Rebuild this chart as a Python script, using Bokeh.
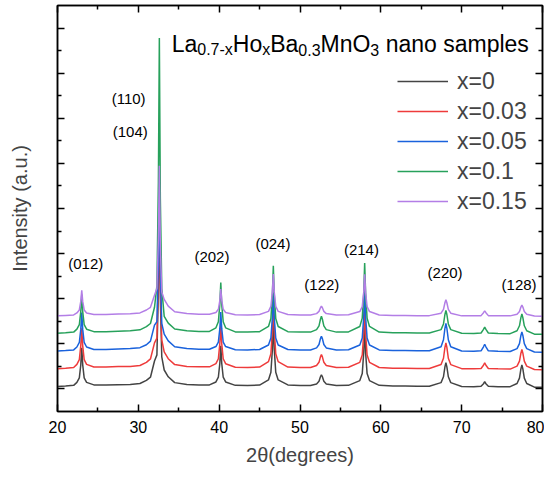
from bokeh.plotting import figure
from bokeh.models import (FixedTicker, LinearAxis, Range1d, Legend, LegendItem,
                          ColumnDataSource, CustomJSTickFormatter)
from bokeh.core.properties import value
from bokeh.embed import file_html
from bokeh.resources import INLINE

FONT = "Liberation Sans"

# ---------------- data ----------------
two_theta = [20.0, 21.0, 22.0, 22.4, 22.7, 22.88, 23.0, 23.12, 23.3, 23.6,
             24.5, 26.0, 27.5, 29.0, 30.2, 31.0, 31.5,
             32.0, 32.3, 32.48, 32.6, 32.72, 32.9, 33.2, 33.7,
             34.5, 36.0, 37.5, 38.8,
             39.6, 39.9, 40.08, 40.2, 40.32, 40.5, 40.8,
             42.0, 43.5, 45.0,
             46.1, 46.4, 46.58, 46.7, 46.82, 47.0, 47.3,
             48.5, 50.0, 51.3,
             52.05, 52.35, 52.53, 52.65, 52.77, 52.95, 53.25,
             54.5, 56.0,
             57.4, 57.7, 57.88, 58.0, 58.12, 58.3, 58.6,
             59.8, 61.5, 63.0, 64.5, 66.0,
             67.45, 67.75, 67.93, 68.05, 68.17, 68.35, 68.65,
             70.0, 71.5,
             72.4, 72.7, 72.85, 73.0, 73.3,
             74.5, 76.0,
             76.85, 77.15, 77.33, 77.45, 77.57, 77.75, 78.05,
             79.0, 80.0]

int_x0 = [111, 113, 116, 129, 149, 207, 282, 207, 149, 129,
          118, 117, 119, 120, 124, 138, 152,
          224, 251, 547, 960, 504, 242, 184, 154,
          128, 120, 118, 118,
          131, 152, 213, 291, 213, 152, 131,
          116, 115, 117,
          140, 174, 273, 400, 273, 174, 140,
          118, 115, 115,
          122, 134, 154, 163, 154, 134, 122,
          115, 116,
          137, 168, 260, 378, 260, 168, 137,
          116, 113, 113, 112, 112,
          128, 154, 198, 217, 198, 154, 128,
          111, 110,
          112, 123, 132, 123, 112,
          110, 110,
          124, 148, 189, 206, 189, 148, 124,
          108, 107]

int_x003 = [190, 192, 195, 209, 230, 291, 369, 291, 230, 209,
            197, 197, 199, 200, 204, 218, 233,
            304, 325, 607, 1000, 566, 317, 264, 234,
            208, 200, 198, 198,
            212, 234, 300, 384, 300, 234, 212,
            196, 195, 197,
            221, 256, 360, 493, 360, 256, 221,
            197, 195, 195,
            204, 218, 242, 252, 242, 218, 204,
            195, 196,
            218, 250, 345, 466, 345, 250, 218,
            195, 192, 192, 191, 191,
            208, 236, 284, 304, 284, 236, 208,
            190, 189,
            191, 205, 216, 205, 191,
            189, 188,
            201, 223, 259, 275, 259, 223, 201,
            186, 185]

int_x005 = [268, 270, 273, 286, 306, 364, 439, 364, 306, 286,
            275, 275, 277, 279, 283, 296, 312,
            383, 398, 667, 1040, 628, 390, 343, 313,
            287, 279, 276, 276,
            288, 308, 366, 441, 366, 308, 288,
            274, 273, 275,
            295, 326, 414, 528, 414, 326, 295,
            275, 273, 273,
            282, 297, 323, 334, 323, 297, 282,
            273, 274,
            295, 326, 418, 536, 418, 326, 295,
            273, 270, 270, 269, 269,
            287, 318, 369, 391, 369, 318, 287,
            268, 267,
            269, 287, 298, 287, 269,
            267, 266,
            279, 301, 337, 353, 337, 301, 279,
            264, 263]

int_x01 = [347, 349, 352, 365, 385, 443, 518, 443, 385, 365,
           354, 354, 356, 358, 362, 376, 390,
           462, 558, 1014, 1656, 949, 545, 422, 392,
           366, 358, 355, 355,
           371, 398, 474, 572, 474, 398, 371,
           353, 352, 354,
           377, 412, 515, 646, 515, 412, 377,
           354, 352, 352,
           363, 380, 409, 422, 409, 380, 363,
           352, 353,
           377, 414, 521, 658, 521, 414, 377,
           352, 349, 349, 348, 348,
           363, 388, 430, 448, 430, 388, 363,
           347, 346,
           348, 364, 374, 364, 348,
           346, 345,
           358, 380, 416, 432, 416, 380, 358,
           343, 342]

int_x015 = [424, 426, 428, 437, 450, 488, 537, 488, 450, 437,
            430, 430, 432, 433, 437, 450, 462,
            515, 545, 768, 1090, 735, 530, 497, 467,
            442, 434, 431, 431,
            439, 453, 492, 543, 492, 453, 439,
            429, 428, 430,
            444, 466, 528, 609, 528, 466, 444,
            430, 428, 428,
            434, 444, 460, 467, 460, 444, 434,
            428, 429,
            443, 465, 527, 608, 527, 465, 443,
            428, 426, 426, 425, 425,
            436, 453, 482, 495, 482, 453, 436,
            424, 424,
            425, 438, 446, 438, 425,
            424, 424,
            431, 443, 463, 472, 463, 443, 431,
            423, 422]

series_labels = ["x=0", "x=0.03", "x=0.05", "x=0.1", "x=0.15"]
series_values = [int_x0, int_x003, int_x005, int_x01, int_x015]
series_colors = ["#444444", "#ee3b3b", "#1a62dc", "#27a15b", "#b37ee6"]

peak_labels = ["(012)", "(110)", "(104)", "(202)", "(024)", "(122)", "(214)", "(220)", "(128)"]
peak_label_x = [23.5, 28.8, 29.0, 39.1, 46.65, 52.7, 57.6, 67.95, 77.1]
peak_label_y = [658, 1386, 1243, 685, 746, 562, 719, 615, 562]

x_major = [20, 30, 40, 50, 60, 70, 80]
x_minor = [25, 35, 45, 55, 65, 75]
y_major = [100, 300, 500, 700, 900, 1100, 1300, 1500, 1700]
y_minor = [200, 400, 600, 800, 1000, 1200, 1400, 1600]

# ---------------- figure ----------------
p = figure(width=544, height=468, x_range=Range1d(20, 80), y_range=Range1d(0, 1800),
           output_backend="svg", toolbar_location=None,
           min_border_left=57, min_border_right=2, min_border_top=5, min_border_bottom=50)
p.xgrid.visible = False
p.ygrid.visible = False
p.outline_line_color = "black"
p.outline_line_width = 1.5
p.background_fill_color = "white"
p.border_fill_color = "white"


def style_axis(ax, ticker, labels=True):
    ax.ticker = ticker
    ax.major_tick_in = 7
    ax.major_tick_out = 0
    ax.minor_tick_in = 4
    ax.minor_tick_out = 0
    ax.axis_line_width = 1.5
    ax.axis_line_color = "black"
    ax.major_tick_line_width = 1.5
    ax.minor_tick_line_width = 1.5
    ax.major_tick_line_color = "black"
    ax.minor_tick_line_color = "black"
    ax.major_label_text_font = FONT
    ax.major_label_text_color = "black"
    if labels:
        ax.major_label_text_font_size = "16px"
    else:
        ax.formatter = CustomJSTickFormatter(code="return ''")
        ax.major_label_standoff = 0
        ax.axis_label_standoff = 0


xt = FixedTicker(ticks=x_major, minor_ticks=x_minor)
yt = FixedTicker(ticks=y_major, minor_ticks=y_minor)

xa = p.xaxis[0]
style_axis(xa, xt, True)
xa.major_label_standoff = 9
xa.axis_label = "2θ(degrees)"
xa.axis_label_text_font = FONT
xa.axis_label_text_font_size = "20px"
xa.axis_label_text_font_style = "normal"
xa.axis_label_standoff = 8

ya = p.yaxis[0]
style_axis(ya, yt, False)
ya.axis_label = "Intensity (a.u.)"
ya.axis_label_text_font = FONT
ya.axis_label_text_font_size = "20px"
ya.axis_label_text_font_style = "normal"
ya.axis_label_standoff = 27

top_ax = LinearAxis()
style_axis(top_ax, FixedTicker(ticks=x_major, minor_ticks=x_minor), False)
p.add_layout(top_ax, "above")
right_ax = LinearAxis()
style_axis(right_ax, FixedTicker(ticks=y_major, minor_ticks=y_minor), False)
p.add_layout(right_ax, "right")

items = []
for lab, vals, col in zip(series_labels, series_values, series_colors):
    r = p.line(two_theta, vals, line_color=col, line_width=1.5)
    items.append(LegendItem(label=lab, renderers=[r]))

legend = Legend(items=items, location=(340, 195), border_line_color=None,
                background_fill_alpha=0, padding=0, margin=0, spacing=0,
                glyph_width=51, glyph_height=30, label_height=30, label_standoff=9,
                label_text_font=FONT, label_text_font_size="23px",
                label_text_baseline="middle")
p.add_layout(legend)

p.text(x=peak_label_x, y=peak_label_y, text=peak_labels, text_font=value(FONT),
       text_font_size="15px", text_align="center", text_baseline="middle",
       text_color="black")

# title with subscripts
title_parts = ["La", "0.7-x", "Ho", "x", "Ba", "0.3", "MnO", "3", "nano samples"]
title_sizes = ["23px", "16px", "23px", "16px", "23px", "16px", "23px", "16px", "23px"]
title_dx = [0, 25.6, 61.2, 90.6, 98.6, 126.7, 148.9, 198.7, 214.0]
title_dy = [0, 6, 0, 6, 0, 6, 0, 6, 0]
tsrc = ColumnDataSource(dict(x=[34.12] * 9, y=[1631] * 9, text=title_parts,
                             size=title_sizes, dx=title_dx, dy=title_dy))
p.text(x="x", y="y", text="text", source=tsrc, text_font=value(FONT),
       text_font_size="size", x_offset="dx", y_offset="dy",
       text_align="left", text_baseline="alphabetic", text_color="black")

open("out.html", "w").write(file_html(p, INLINE))
